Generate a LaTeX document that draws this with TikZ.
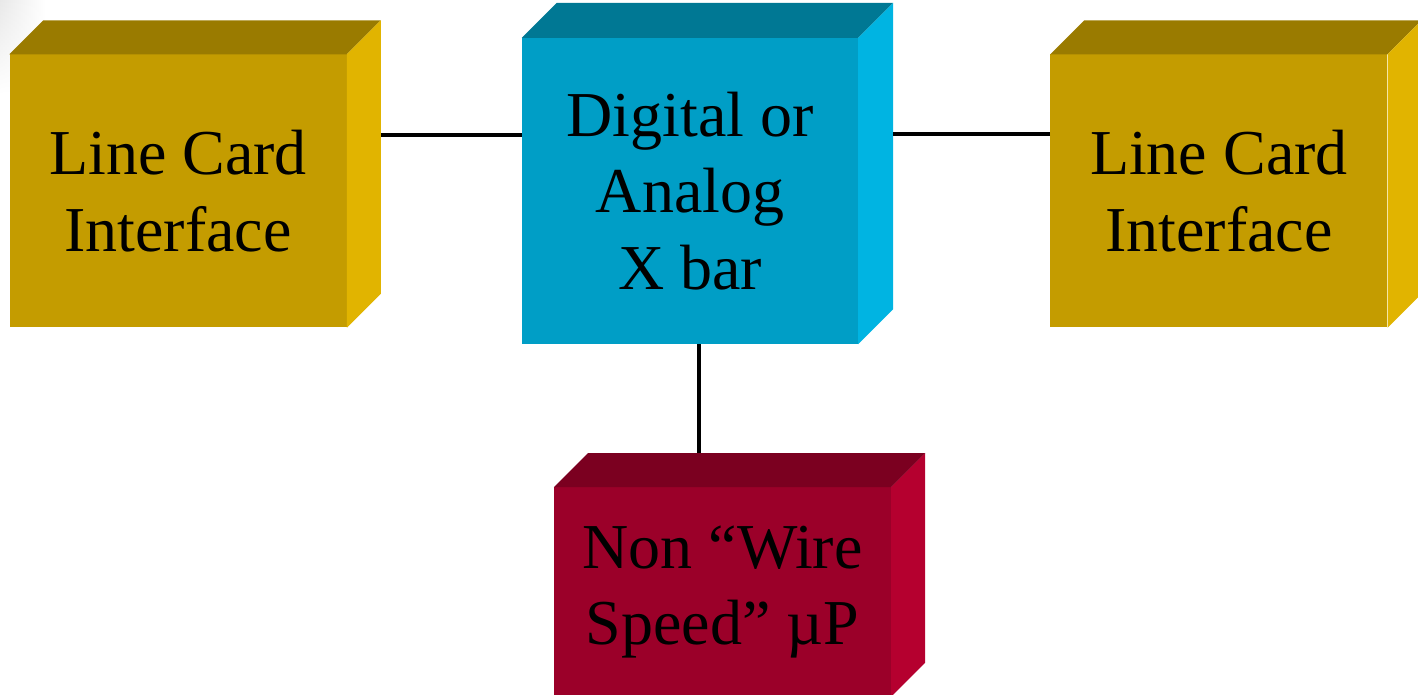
\documentclass[tikz,border=0pt]{standalone}
\usepackage{fontspec}
\setmainfont{Liberation Serif}
\usetikzlibrary{positioning}
\usetikzlibrary{fadings}

\definecolor{frontgold}{HTML}{C49C00}
\definecolor{topgold}{HTML}{9A7B00}
\definecolor{sidegold}{HTML}{E1B400}
\definecolor{frontblue}{HTML}{009EC6}
\definecolor{topblue}{HTML}{007894}
\definecolor{sideblue}{HTML}{00B4E2}
\definecolor{frontred}{HTML}{9B0029}
\definecolor{topred}{HTML}{7B0020}
\definecolor{sidered}{HTML}{B5002F}

\tikzset{
  cardbox/.style={minimum width=337pt, minimum height=273pt, inner sep=0pt,
    align=center, font=\fontsize{64}{76.5}\selectfont},
  wire/.style={black, line width=4pt}
}

\begin{document}
\begin{tikzpicture}[x=1pt, y=1pt]

\useasboundingbox (0,0) rectangle (1418,694);
\clip (0,0) rectangle (1418,694);

% faint slide shade, top left
\shade[left color=black!9, right color=white, path fading=south] (0,694) rectangle (45,600);

\node[cardbox, fill=frontblue, minimum width=336pt, minimum height=306pt] (xbar) at (690,503) {Digital or\\Analog\\X bar};
\node[cardbox, fill=frontgold] (lcl) [left=175pt of xbar] {Line Card\\Interface};
\node[cardbox, fill=frontgold] (lcr) [right=192pt of xbar] {Line Card\\Interface};
\node[cardbox, fill=frontred, minimum height=209pt] (np) [below=143pt of xbar, xshift=32.5pt] {Non “Wire\\Speed” µP};

% top and side faces
\foreach \n/\d/\c in {lcl/34/gold, xbar/35/blue, lcr/34/gold, np/34/red}{
  \fill[top\c] (\n.north west) --++(\d,\d) -- ([shift={(\d,\d)}]\n.north east) -- (\n.north east) -- cycle;
  \fill[side\c] (\n.north east) --++(\d,\d) -- ([shift={(\d,\d)}]\n.south east) -- (\n.south east) -- cycle;
}

\coordinate (lcl-back) at ([shift={(34,34)}]lcl.east);
\coordinate (xbar-back) at ([shift={(35,35)}]xbar.east);
\coordinate (np-back) at ([shift={(34,34)}]np.north);

\coordinate (wl) at ([yshift=56]xbar.west);
\coordinate (wr) at ([yshift=56.5]lcr.west);
\coordinate (wd) at ([xshift=9]xbar.south);

\draw[wire] (wl) -- (wl -| lcl-back);
\draw[wire] (wr) -- (wr -| xbar-back);
\draw[wire] (wd) -- (wd |- np-back);

\end{tikzpicture}
\end{document}
